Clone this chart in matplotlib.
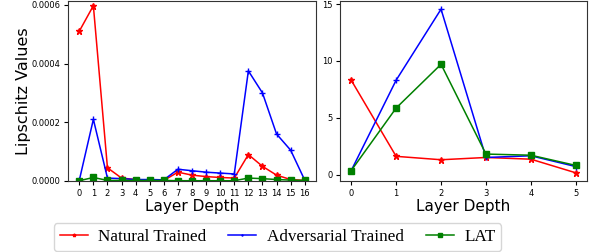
import matplotlib
matplotlib.use("Agg")
import matplotlib.pyplot as plt

layers_left = list(range(17))
natural_left = [0.00051, 0.000597, 0.000045, 0.00001, 0.000005, 0.000003, 0.000002, 0.00003,
                0.00002, 0.000015, 0.000012, 0.00001, 0.00009, 0.00005, 0.00002, 0.000005, 0.000002]
adv_left = [0.000002, 0.00021, 0.00001, 0.000008, 0.000005, 0.000005, 0.000004, 0.00004,
            0.000035, 0.00003, 0.000027, 0.000024, 0.000375, 0.0003, 0.00016, 0.000105, 0.000003]
lat_left = [0.000001, 0.000012, 0.000002, 0.000002, 0.000002, 0.000002, 0.000002, 0.000001,
            0.000001, 0.000001, 0.000001, 0.000001, 0.00001, 0.000008, 0.000005, 0.000003, 0.000002]

layers_right = list(range(6))
natural_right = [8.3, 1.6, 1.3, 1.5, 1.35, 0.15]
adv_right = [0.35, 8.3, 14.55, 1.5, 1.65, 0.7]
lat_right = [0.35, 5.85, 9.7, 1.8, 1.7, 0.8]

labels = ["Natural Trained", "Adversarial Trained", "LAT"]

fig = plt.figure(figsize=(5.95, 2.52), dpi=100)
ax1 = fig.add_axes([68/595, 1 - 181/252, 248/595, 180/252])
ax2 = fig.add_axes([340/595, 1 - 181/252, 247/595, 180/252])

def draw(ax, x, n, a, l):
    h1, = ax.plot(x, n, color='red', marker='*', markersize=5, linewidth=1.1)
    h2, = ax.plot(x, a, color='blue', marker='+', markersize=4, linewidth=1.1)
    h3, = ax.plot(x, l, color='green', marker='s', markersize=4.5, linewidth=1.1)
    ax.set_xticks(x)
    ax.tick_params(labelsize=6, length=3, width=0.8, pad=2.5)
    ax.set_xlabel("Layer Depth", fontsize=11, labelpad=1)
    for s in ax.spines.values():
        s.set_color('#333333')
        s.set_linewidth(0.8)
    return [h1, h2, h3]

handles = draw(ax1, layers_left, natural_left, adv_left, lat_left)
ax1.set_ylim(0, 0.000613)
ax1.set_yticks([0, 0.0002, 0.0004, 0.0006])
ax1.set_yticklabels(["0.0000", "0.0002", "0.0004", "0.0006"])
ax1.set_ylabel("Lipschitz Values", fontsize=11.5, labelpad=0)

draw(ax2, layers_right, natural_right, adv_right, lat_right)
ax2.set_yticks([0, 5, 10, 15])

fig.legend(handles, labels, loc='lower center', ncol=3, bbox_to_anchor=(277.5/595, 0.003),
           prop={'family': 'Liberation Serif', 'size': 12.3}, frameon=True,
           handlelength=1.65, columnspacing=1.3, borderpad=0.35, handletextpad=0.6,
           borderaxespad=0, markerscale=0.5)

fig.savefig("out.png", dpi=100)
